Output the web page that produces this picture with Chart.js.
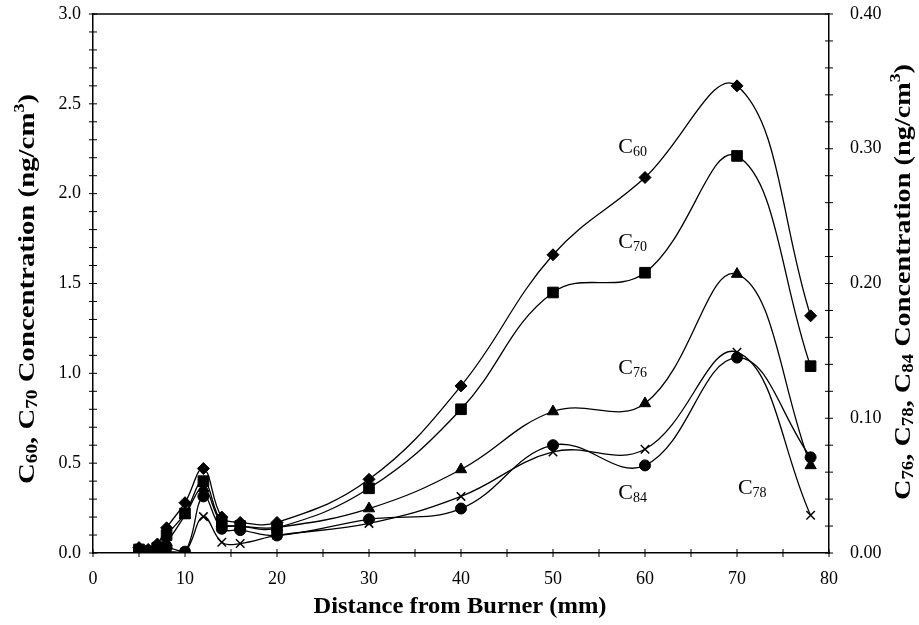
<!DOCTYPE html>
<html>
<head>
<meta charset="utf-8">
<script src="https://cdn.jsdelivr.net/npm/chart.js@4.4.1/dist/chart.umd.min.js"></script>
<style>
html,body{margin:0;padding:0;background:#fff;}
#wrap{width:919px;height:625px;position:relative;}
</style>
</head>
<body>
<div id="wrap"><canvas id="c" width="919" height="625"></canvas></div>
<script>
// Distance from burner (mm)
const distances = [5, 6, 7, 8, 10, 12, 14, 16, 20, 30, 40, 50, 60, 70, 78];
// Left axis series (ng/cm3)
const c60 = [0.03, 0.02, 0.05, 0.14, 0.28, 0.47, 0.20, 0.17, 0.17, 0.41, 0.93, 1.66, 2.09, 2.60, 1.32];
const c70 = [0.02, 0.01, 0.03, 0.10, 0.22, 0.40, 0.17, 0.15, 0.14, 0.36, 0.80, 1.45, 1.56, 2.21, 1.04];
// Right axis series (ng/cm3)
const c76 = [0.003, 0.001, 0.003, 0.008, 0.028, 0.048, 0.022, 0.020, 0.019, 0.033, 0.062, 0.105, 0.111, 0.207, 0.065];
const c84 = [0.002, 0.001, 0.002, 0.004, 0.001, 0.042, 0.018, 0.017, 0.013, 0.025, 0.033, 0.080, 0.065, 0.145, 0.071];
const c78 = [0.001, 0.001, 0.001, 0.001, 0.001, 0.027, 0.008, 0.007, 0.013, 0.022, 0.042, 0.075, 0.077, 0.149, 0.028];
// Tick label settings
const xTickLabels = [0, 10, 20, 30, 40, 50, 60, 70, 80];
const leftTickLabels = [0.0, 0.5, 1.0, 1.5, 2.0, 2.5, 3.0];
const rightTickLabels = [0.00, 0.10, 0.20, 0.30, 0.40];
// Series labels: [name, subscript, x (mm), y (left-axis units)]
const seriesLabels = [
  ['C', '60', 57.1, 2.26],
  ['C', '70', 57.1, 1.73],
  ['C', '76', 57.1, 1.03],
  ['C', '84', 57.1, 0.33],
  ['C', '78', 70.1, 0.36]
];

const toPts = arr => distances.map((d, i) => ({x: d, y: arr[i]})).filter(p => p.y !== null);

function ds(label, arr, axis, style, radius) {
  return {
    label, data: toPts(arr), yAxisID: axis,
    borderColor: '#000', backgroundColor: '#000', borderWidth: 1.3,
    tension: 0.4, pointStyle: style, pointRadius: radius,
    pointBorderWidth: style === 'crossRot' ? 1.5 : 1,
    pointBorderColor: '#000', pointBackgroundColor: '#000', fill: false
  };
}

const SERIF = "'Liberation Serif', 'DejaVu Serif', serif";

function drawRich(ctx, segs, x, y, rot, align, target) {
  ctx.save();
  ctx.translate(x, y);
  ctx.rotate(rot);
  let total = 0;
  segs.forEach(s => {
    ctx.font = (s[3] ? 'bold ' : '') + s[1] + 'px ' + SERIF;
    total += ctx.measureText(s[0]).width;
  });
  if (target) ctx.scale(target / total, 1);
  let cx = align === 'center' ? -total / 2 : 0;
  ctx.fillStyle = '#000';
  ctx.textBaseline = 'middle';
  ctx.textAlign = 'left';
  segs.forEach(s => {
    ctx.font = (s[3] ? 'bold ' : '') + s[1] + 'px ' + SERIF;
    ctx.fillText(s[0], cx, s[2]);
    cx += ctx.measureText(s[0]).width;
  });
  ctx.restore();
}

const decorPlugin = {
  id: 'decor',
  afterDraw(chart) {
    const ctx = chart.ctx;
    const a = chart.chartArea;
    const sx = chart.scales.x, yl = chart.scales.yL, yr = chart.scales.yR;
    ctx.save();
    ctx.strokeStyle = '#000';
    ctx.lineWidth = 1.5;
    ctx.beginPath();
    ctx.moveTo(a.left, a.top); ctx.lineTo(a.right, a.top);
    ctx.stroke();
    ctx.lineWidth = 1;
    ctx.beginPath();
    sx.ticks.forEach(t => { const p = sx.getPixelForValue(t.value); ctx.moveTo(p, a.bottom - 4); ctx.lineTo(p, a.bottom + 4); });
    yl.ticks.forEach(t => { const p = yl.getPixelForValue(t.value); ctx.moveTo(a.left - 4, p); ctx.lineTo(a.left + 4, p); });
    yr.ticks.forEach(t => { const p = yr.getPixelForValue(t.value); ctx.moveTo(a.right - 4, p); ctx.lineTo(a.right + 4, p); });
    ctx.stroke();
    ctx.restore();
    seriesLabels.forEach(l => {
      const px = sx.getPixelForValue(l[2]);
      const py = yl.getPixelForValue(l[3]);
      drawRich(ctx, [[l[0], 22, 0, false], [l[1], 14, 5, false]], px, py, 0, 'left');
    });
    drawRich(ctx, [
      ['C', 24, 0, true], ['60', 16, 5, true], [', C', 24, 0, true], ['70', 16, 5, true],
      [' Concentration (ng/cm', 24, 0, true], ['3', 15, -8, true], [')', 24, 0, true]
    ], 28, 289, -Math.PI / 2, 'center', 390);
    drawRich(ctx, [
      ['C', 24, 0, true], ['76', 16, 5, true], [', C', 24, 0, true], ['78', 16, 5, true],
      [', C', 24, 0, true], ['84', 16, 5, true],
      [' Concentration (ng/cm', 24, 0, true], ['3', 15, -8, true], [')', 24, 0, true]
    ], 904, 282, -Math.PI / 2, 'center', 436);
    drawRich(ctx, [['Distance from Burner (mm)', 24, 0, true]], 460, 607, 0, 'center', 293);
  }
};

const tickFont = {family: SERIF, size: 18};
const near = (v, list) => list.some(t => Math.abs(t - v) < 1e-6);
const noPadV = s => { s.paddingTop = 0; s.paddingBottom = 0; };

new Chart(document.getElementById('c'), {
  type: 'line',
  data: {
    datasets: [
      ds('C60', c60, 'yL', 'rectRot', 6),
      ds('C70', c70, 'yL', 'rect', 7.5),
      ds('C76', c76, 'yR', 'triangle', 6.5),
      ds('C84', c84, 'yR', 'circle', 5.5),
      ds('C78', c78, 'yR', 'crossRot', 6)
    ]
  },
  options: {
    responsive: false, animation: false,
    layout: {padding: {top: 14, left: 0, right: 0, bottom: 0}},
    plugins: {legend: {display: false}, tooltip: {enabled: false}},
    scales: {
      x: {
        type: 'linear', min: 0, max: 80,
        grid: {display: false, drawTicks: false},
        border: {display: true, color: '#000', width: 1.5},
        ticks: {stepSize: 5, autoSkip: false, maxRotation: 0, padding: 15, color: '#000', font: tickFont,
          callback: v => near(v, xTickLabels) ? String(Math.round(v)) : ''},
        afterFit: s => { s.height = 72; s.paddingLeft = 0; s.paddingRight = 0; }
      },
      yL: {
        type: 'linear', position: 'left', min: 0, max: 3,
        grid: {display: false, drawTicks: false},
        border: {display: true, color: '#000', width: 1.5},
        ticks: {stepSize: 0.1, autoSkip: false, padding: 12, color: '#000', font: tickFont,
          callback: v => near(v, leftTickLabels) ? v.toFixed(1) : ''},
        afterFit: s => { s.width = 93; noPadV(s); }
      },
      yR: {
        type: 'linear', position: 'right', min: 0, max: 0.4,
        grid: {display: false, drawTicks: false},
        border: {display: true, color: '#000', width: 1.5},
        ticks: {stepSize: 0.02, autoSkip: false, padding: 21, color: '#000', font: tickFont,
          callback: v => near(v, rightTickLabels) ? v.toFixed(2) : ''},
        afterFit: s => { s.width = 90; noPadV(s); }
      }
    }
  },
  plugins: [decorPlugin]
});
</script>
</body>
</html>
